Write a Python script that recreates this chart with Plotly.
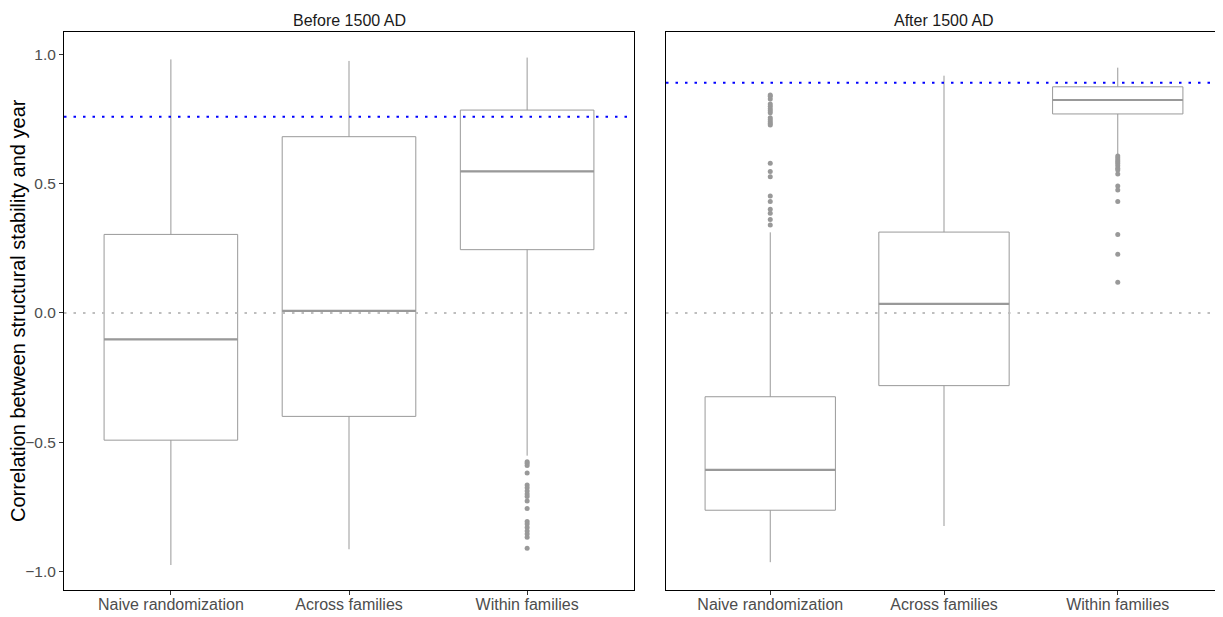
import plotly.graph_objects as go

categories = ["Naive randomization", "Across families", "Within families"]
panels = ["Before 1500 AD", "After 1500 AD"]

# Before 1500 AD box statistics
before_q1 = [-0.492, -0.400, 0.245]
before_median = [-0.102, 0.008, 0.548]
before_q3 = [0.304, 0.682, 0.785]
before_lower = [-0.975, -0.914, -0.552]
before_upper = [0.981, 0.975, 0.988]
before_outliers_naive = []
before_outliers_across = []
before_outliers_within = [-0.575, -0.581, -0.590, -0.619, -0.665, -0.676, -0.689, -0.700,
                          -0.710, -0.727, -0.756, -0.807, -0.816, -0.830, -0.843, -0.855,
                          -0.868, -0.910]

# After 1500 AD box statistics
after_q1 = [-0.763, -0.281, 0.770]
after_median = [-0.607, 0.035, 0.824]
after_q3 = [-0.324, 0.313, 0.875]
after_lower = [-0.964, -0.824, 0.611]
after_upper = [0.312, 0.918, 0.949]
after_outliers_naive = [0.843, 0.838, 0.828, 0.808, 0.800, 0.790, 0.782, 0.775, 0.755, 0.748,
                        0.740, 0.733, 0.727, 0.579, 0.547, 0.527, 0.453, 0.431, 0.401, 0.386,
                        0.362, 0.340]
after_outliers_across = []
after_outliers_within = [0.607, 0.600, 0.592, 0.585, 0.578, 0.570, 0.560, 0.553, 0.538,
                         0.491, 0.476, 0.431, 0.304, 0.227, 0.119]

# Reference lines
observed = [0.759, 0.891]
null_line = 0.0

y_ticks = [-1.0, -0.5, 0.0, 0.5, 1.0]

BOX_COLOR = "#999999"
FONT = "Liberation Sans, Arial, sans-serif"
W, H = 1215, 609
OFF = 8  # page body margin
BOX_W = 0.75

fig = go.Figure()

data = [
    (before_q1, before_median, before_q3, before_lower, before_upper,
     [before_outliers_naive, before_outliers_across, before_outliers_within]),
    (after_q1, after_median, after_q3, after_lower, after_upper,
     [after_outliers_naive, after_outliers_across, after_outliers_within]),
]

positions = [i + 1 for i in range(len(categories))]

for p, (q1, med, q3, lo, up, outs) in enumerate(data):
    xa = "x" if p == 0 else "x2"
    ya = "y" if p == 0 else "y2"
    for i, cat in enumerate(categories):
        pos = positions[i]
        fig.add_trace(go.Box(
            x=[pos], q1=[q1[i]], median=[med[i]], q3=[q3[i]],
            lowerfence=[lo[i]], upperfence=[up[i]],
            width=BOX_W, whiskerwidth=0, boxpoints=False,
            fillcolor="white", line=dict(color=BOX_COLOR, width=1),
            xaxis=xa, yaxis=ya, showlegend=False, hoverinfo="skip",
        ))
        fig.add_trace(go.Scatter(
            x=[pos - BOX_W / 2, pos + BOX_W / 2], y=[med[i], med[i]],
            mode="lines", line=dict(color=BOX_COLOR, width=2.2),
            xaxis=xa, yaxis=ya, showlegend=False, hoverinfo="skip",
        ))
        if outs[i]:
            fig.add_trace(go.Scatter(
                x=[pos] * len(outs[i]), y=outs[i], mode="markers",
                marker=dict(color=BOX_COLOR, size=5, line=dict(width=0)),
                xaxis=xa, yaxis=ya, showlegend=False, hoverinfo="skip",
            ))

# Horizontal reference lines
for p in range(2):
    xr = "x domain" if p == 0 else "x2 domain"
    yr = "y" if p == 0 else "y2"
    fig.add_shape(type="line", xref=xr, yref=yr, x0=0, x1=1, y0=null_line, y1=null_line,
                  line=dict(color="#BEBEBE", width=2, dash="2.5px,7px"), layer="above")
    fig.add_shape(type="line", xref=xr, yref=yr, x0=0, x1=1, y0=observed[p], y1=observed[p],
                  line=dict(color="#0000FF", width=2, dash="2.5px,7px"), layer="above")

y_range = [-1.0716, 1.0870]
x_range = [0.4, 3.6]

axis_common = dict(showline=True, linecolor="black", linewidth=1, mirror=True,
                   showgrid=False, zeroline=False)

top_px, bottom_px = 32 - OFF, 590 - OFF

fig.update_layout(
    width=W, height=H,
    margin=dict(l=0, r=0, t=top_px, b=H - bottom_px, autoexpand=False),
    plot_bgcolor="white", paper_bgcolor="white",
    font=dict(family=FONT),
    xaxis=dict(domain=[(64 - OFF) / W, (634 - OFF) / W], range=x_range, tickvals=positions,
               ticktext=categories, ticks="outside", ticklen=4, tickcolor="#333333",
               ticklabelstandoff=-4,
               tickfont=dict(size=16, color="#4D4D4D"), **axis_common),
    xaxis2=dict(domain=[(666 - OFF) / W, (1222 - OFF) / W], range=x_range, tickvals=positions,
                ticktext=categories, ticks="outside", ticklen=4, tickcolor="#333333",
                ticklabelstandoff=-4,
                tickfont=dict(size=16, color="#4D4D4D"), anchor="y2", **axis_common),
    yaxis=dict(range=y_range, tickvals=y_ticks, tickformat=".1f", ticks="outside", ticklen=4,
               tickcolor="#333333", tickfont=dict(size=15.5, color="#4D4D4D"), **axis_common),
    yaxis2=dict(range=y_range, anchor="x2", showticklabels=False, ticks="", **axis_common),
)

# Panel titles
for p, name in enumerate(panels):
    xr = "x domain" if p == 0 else "x2 domain"
    fig.add_annotation(text=name, xref=xr, yref="paper", x=0.5, y=1, yanchor="middle",
                       yshift=12, showarrow=False, font=dict(size=16, color="#1A1A1A"))

# Y axis title
fig.add_annotation(text="Correlation between structural stability and year",
                   xref="paper", yref="paper", x=(18 - OFF) / W, y=0.5, textangle=-90,
                   xanchor="center", yanchor="middle", showarrow=False,
                   font=dict(size=20, color="black"))

fig.write_html("out.html")
